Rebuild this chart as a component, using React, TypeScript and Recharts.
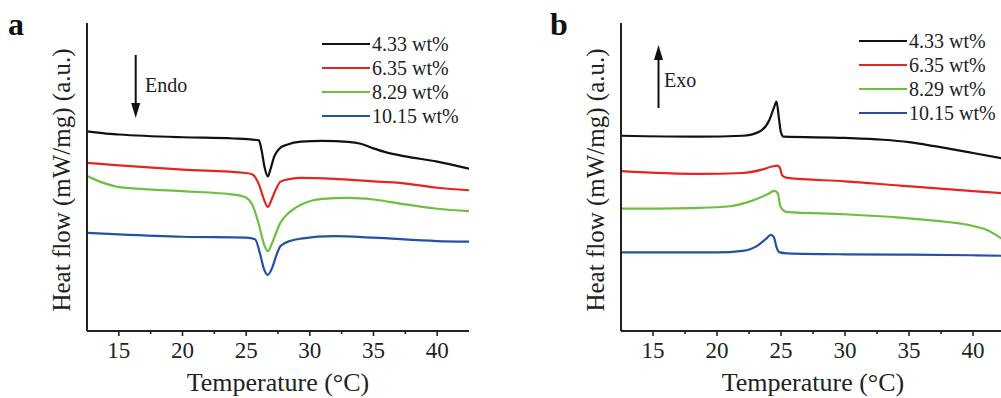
import React from 'react';
import { LineChart, Line, XAxis, YAxis, Legend } from 'recharts';

const serif = 'Liberation Serif';

const samples = ['4.33 wt%', '6.35 wt%', '8.29 wt%', '10.15 wt%'];
const colors = ['#111111', '#e3261f', '#6cbf3f', '#2352a3'];
const tempTicks = [15, 17.5, 20, 22.5, 25, 27.5, 30, 32.5, 35, 37.5, 40];

// (a) heating scans, endothermic dips
const heatTemp1 = [12.5, 14, 15, 20, 24, 26.0, 26.2, 26.45, 26.7, 26.9, 27.2, 27.6, 28.2, 29.3, 31, 33, 34, 35, 36, 37.5, 40, 42.5];
const heatFlow1 = [6.48, 6.41, 6.38, 6.29, 6.25, 6.19, 5.89, 5.31, 5.02, 5.24, 5.66, 5.92, 6.05, 6.15, 6.17, 6.14, 6.08, 5.93, 5.8, 5.67, 5.5, 5.27];
const heatTemp2 = [12.5, 15, 20, 25, 25.5, 26, 26.4, 26.7, 27, 27.4, 27.7, 28.5, 29.3, 31.9, 35, 37.1, 40, 42.5];
const heatFlow2 = [5.46, 5.38, 5.24, 5.13, 5.08, 4.76, 4.27, 4.03, 4.27, 4.66, 4.85, 4.94, 4.97, 4.94, 4.86, 4.81, 4.65, 4.57];
const heatTemp3 = [12.5, 13.5, 14.5, 15, 20, 24, 25, 25.5, 26, 26.4, 26.7, 27, 27.4, 27.7, 28.3, 28.8, 29.3, 31, 33, 35, 37.5, 40, 42.5];
const heatFlow3 = [5.03, 4.85, 4.72, 4.67, 4.54, 4.43, 4.33, 4.08, 3.46, 2.82, 2.59, 2.82, 3.24, 3.52, 3.82, 3.98, 4.1, 4.29, 4.32, 4.27, 4.11, 3.97, 3.89];
const heatTemp4 = [12.5, 15, 20, 25, 25.7, 26.1, 26.4, 26.7, 27, 27.4, 27.7, 28.5, 29.3, 31.9, 35, 40, 42.5];
const heatFlow4 = [3.19, 3.14, 3.06, 3.03, 2.98, 2.49, 2.01, 1.82, 2.01, 2.49, 2.76, 2.93, 3.0, 3.08, 3.03, 2.92, 2.9];

// (b) cooling scans, exothermic peaks
const coolTemp1 = [12.5, 18.6, 22, 23.3, 24.1, 24.45, 24.65, 24.85, 25.0, 25.2, 30, 33, 35, 37, 40, 42.5];
const coolFlow1 = [6.34, 6.31, 6.34, 6.47, 6.86, 7.25, 7.45, 6.86, 6.44, 6.31, 6.27, 6.21, 6.13, 6.0, 5.78, 5.59];
const coolTemp2 = [12.5, 18.6, 22, 23.5, 24.3, 24.7, 24.9, 25.1, 25.5, 30, 34.3, 40, 42.5];
const coolFlow2 = [5.19, 5.1, 5.13, 5.24, 5.34, 5.37, 5.31, 5.05, 4.97, 4.86, 4.72, 4.54, 4.47];
const coolTemp3 = [12.5, 18.6, 21, 22.6, 23.9, 24.5, 24.75, 24.95, 25.4, 30, 34.3, 38, 40, 41.3, 42.5];
const coolFlow3 = [3.97, 4.0, 4.05, 4.21, 4.43, 4.55, 4.47, 4.05, 3.87, 3.79, 3.68, 3.54, 3.41, 3.24, 2.92];
const coolTemp4 = [12.5, 20, 22, 23.2, 23.8, 24.2, 24.45, 24.65, 24.85, 25.5, 30, 35, 40, 42.5];
const coolFlow4 = [2.55, 2.55, 2.6, 2.78, 2.98, 3.12, 3.04, 2.72, 2.56, 2.52, 2.49, 2.48, 2.46, 2.44];

const zip = (t: number[], v: number[]) => t.map((x, i) => ({ t: x, v: v[i] }));

const heating = [zip(heatTemp1, heatFlow1), zip(heatTemp2, heatFlow2), zip(heatTemp3, heatFlow3), zip(heatTemp4, heatFlow4)];
const cooling = [zip(coolTemp1, coolFlow1), zip(coolTemp2, coolFlow2), zip(coolTemp3, coolFlow3), zip(coolTemp4, coolFlow4)];

const axisColor = '#222';

const TempTick = (props: any) => {
  const { x, y, payload } = props;
  const major = payload.value % 5 === 0;
  return (
    <g>
      <line x1={x} x2={x} y1={y} y2={y + (major ? 5 : 3)} stroke={axisColor} strokeWidth={1.6} />
      {major && (
        <text x={x} y={y + 27} textAnchor="middle" fontSize={23} fontFamily={serif} fill="#222">
          {payload.value}
        </text>
      )}
    </g>
  );
};

const LegendBox = (props: any) => {
  const items = [...(props.payload || [])].sort((a: any, b: any) => samples.indexOf(a.value) - samples.indexOf(b.value));
  return (
    <div>
      {items.map((e: any) => (
        <div key={e.value} style={{ display: 'flex', alignItems: 'center', height: 24 }}>
          <svg width={48} height={4} style={{ display: 'block' }}>
            <line x1={0} x2={48} y1={2} y2={2} stroke={e.color} strokeWidth={2} />
          </svg>
          <span style={{ fontFamily: serif, fontSize: 20, marginLeft: 2, color: '#222', lineHeight: '24px', whiteSpace: 'nowrap' }}>
            {e.value}
          </span>
        </div>
      ))}
    </div>
  );
};

const yTitle = (cx: number) => (props: any) => {
  const vb = props.viewBox || { y: 23, height: 308 };
  const cy = vb.y + vb.height / 2 + 3;
  return (
    <text transform={`translate(${cx},${cy}) rotate(-90)`} textAnchor="middle" dominantBaseline="central" fontSize={25} fontFamily={serif} fill="#222">
      Heat flow (mW/mg) (a.u.)
    </text>
  );
};

const xTitle = (props: any) => {
  const vb = props.viewBox || { x: 87, width: 382, y: 331 };
  return (
    <text x={vb.x + vb.width / 2} y={vb.y + 60} textAnchor="middle" fontSize={26} fontFamily={serif} fill="#222">
      Temperature (°C)
    </text>
  );
};

type PanelProps = {
  series: { t: number; v: number }[][];
  width: number;
  yAxisWidth: number;
  right: number;
  titleX: number;
  legendLeft: number;
  legendTop: number;
};

const Panel = ({ series, width, yAxisWidth, right, titleX, legendLeft, legendTop }: PanelProps) => (
  <LineChart width={width} height={398} margin={{ top: 23, right, left: 0, bottom: 0 }}>
    <XAxis
      dataKey="t"
      type="number"
      domain={[12.5, 42.5]}
      allowDataOverflow
      ticks={tempTicks}
      interval={0}
      tickLine={false}
      tickSize={0}
      tickMargin={0}
      tick={<TempTick />}
      height={67}
      axisLine={{ stroke: axisColor, strokeWidth: 2 }}
      label={{ content: xTitle }}
    />
    <XAxis xAxisId="top" orientation="top" dataKey="t" type="number" domain={[12.5, 42.5]} tick={false} tickLine={false} height={0} axisLine={{ stroke: axisColor, strokeWidth: 2 }} />
    <YAxis
      type="number"
      domain={[0, 10]}
      allowDataOverflow
      tick={false}
      tickLine={false}
      width={yAxisWidth}
      axisLine={{ stroke: axisColor, strokeWidth: 2 }}
      label={{ content: yTitle(titleX) }}
    />
    <YAxis yAxisId="right" orientation="right" domain={[0, 10]} tick={false} tickLine={false} width={0} axisLine={{ stroke: axisColor, strokeWidth: 2 }} />
    <Legend
      layout="horizontal"
      verticalAlign="middle"
      align="center"
      content={<LegendBox />}
      wrapperStyle={{ position: 'absolute', left: legendLeft, top: legendTop, width: 'auto', height: 'auto' }}
    />
    {series.map((d, i) => (
      <Line
        key={samples[i]}
        data={d}
        dataKey="v"
        name={samples[i]}
        type="monotone"
        stroke={colors[i]}
        strokeWidth={2.2}
        dot={false}
        activeDot={false}
        isAnimationActive={false}
      />
    ))}
  </LineChart>
);

const Arrow = ({ x, tail, tip }: { x: number; tail: number; tip: number }) => {
  const dir = tip > tail ? 1 : -1;
  const base = tip - dir * 15;
  return (
    <g>
      <line x1={x} x2={x} y1={tail} y2={base} stroke="#111" strokeWidth={2} />
      <polygon points={`${x - 4.5},${base} ${x + 4.5},${base} ${x},${tip}`} fill="#111" />
    </g>
  );
};

export default function App() {
  return (
    <div style={{ position: 'absolute', left: 0, top: 0, width: 1001, height: 398, overflow: 'hidden', background: '#fff' }}>
      <div style={{ position: 'absolute', left: 0, top: 0 }}>
        <Panel series={heating} width={500} yAxisWidth={87} right={31} titleX={61} legendLeft={322} legendTop={32} />
      </div>
      <div style={{ position: 'absolute', left: 500, top: 0 }}>
        <Panel series={cooling} width={520} yAxisWidth={121} right={15} titleX={95} legendLeft={359} legendTop={29} />
      </div>
      <svg width={1001} height={398} style={{ position: 'absolute', left: 0, top: 0, pointerEvents: 'none' }}>
        <text x={8} y={35} fontSize={32} fontWeight="bold" fontFamily={serif} fill="#111">a</text>
        <text x={550} y={35} fontSize={32} fontWeight="bold" fontFamily={serif} fill="#111">b</text>
        <Arrow x={135.7} tail={55} tip={118} />
        <text x={145} y={92} fontSize={20} fontFamily={serif} fill="#222">Endo</text>
        <Arrow x={658.5} tail={108} tip={45} />
        <text x={664} y={87} fontSize={20} fontFamily={serif} fill="#222">Exo</text>
      </svg>
    </div>
  );
}
